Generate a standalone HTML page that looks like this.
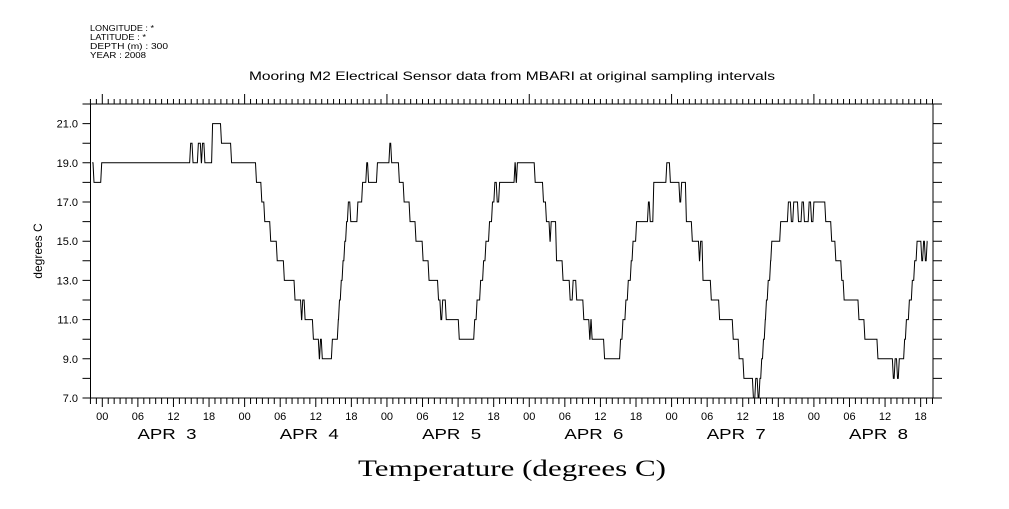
<!DOCTYPE html>
<html><head><meta charset="utf-8"><style>
body{margin:0;background:#fff}
svg text{font-family:"Liberation Sans",sans-serif;fill:#000}
</style></head><body>
<svg id="chart" width="1009" height="504" xmlns="http://www.w3.org/2000/svg">
<g font-size="8">
<text x="90" y="31" textLength="64" lengthAdjust="spacingAndGlyphs">LONGITUDE : *</text>
<text x="90" y="40" textLength="56" lengthAdjust="spacingAndGlyphs">LATITUDE : *</text>
<text x="90" y="49" textLength="78" lengthAdjust="spacingAndGlyphs">DEPTH (m) : 300</text>
<text x="90" y="58" textLength="56" lengthAdjust="spacingAndGlyphs">YEAR : 2008</text>
</g>
<text x="249" y="80" font-size="12" textLength="526" lengthAdjust="spacingAndGlyphs">Mooring M2 Electrical Sensor data from MBARI at original sampling intervals</text>
<text transform="translate(42,251) rotate(-90)" font-size="12" text-anchor="middle">degrees C</text>
<text x="358" y="476" font-size="23" textLength="308" lengthAdjust="spacingAndGlyphs" style="font-family:'Liberation Serif',serif">Temperature (degrees C)</text>
<g id="axes"></g>
<path id="series" fill="none" stroke="#000" stroke-width="1"/>
</svg>
<script>
const hours=[-1.7,-1.4,-0.1,14.7,14.9,15.3,16.2,16.7,16.9,17.3,18.6,20.1,21.8,26.0,26.9,27.4,28.4,29.5,30.7,32.5,33.6,33.8,34.2,35.6,36.6,36.8,37.1,38.8,39.8,40.0,40.3,40.6,40.9,41.2,41.5,41.9,43.1,43.9,44.6,44.9,46.4,48.5,48.8,50.1,50.9,51.9,52.9,54.1,55.1,56.7,57.1,57.4,58.0,60.2,62.8,63.2,63.8,64.3,64.7,65.3,65.8,66.2,66.6,67.0,69.6,69.8,70.0,72.7,73.0,74.4,74.9,75.5,75.7,76.6,77.7,78.9,79.4,80.0,81.2,82.2,82.4,82.6,84.7,87.0,87.4,87.8,88.3,88.7,89.2,89.5,90.1,92.1,92.4,93.0,95.2,95.8,97.4,97.7,98.5,99.5,100.7,100.9,101.3,102.7,104.1,106.4,107.4,108.2,109.8,110.2,110.6,110.9,111.2,111.5,111.8,112.0,112.3,112.7,112.9,114.4,115.7,116.2,116.6,117.4,118.0,118.4,119.2,119.6,120.0,121.7,122.0,123.0,123.7,124.7,125.1,127.6,128.6,130.8,133.4,133.7,134.1,134.4,135.3,135.6,136.1,136.6,137.0,137.4,138.2,138.5,138.8,139.1,139.3];
const temps=[19,18,19,19,20,19,20,19,20,19,21,20,19,18,17,16,15,14,13,12,11,12,11,10,9,10,9,10,11,12,13,14,15,16,17,16,17,18,19,18,19,20,19,18,17,16,15,14,13,12,11,12,11,10,11,12,13,14,15,16,17,18,17,18,19,18,19,19,18,17,16,15,16,14,13,12,13,12,11,10,11,10,9,9,10,11,12,13,14,15,16,17,16,18,19,18,17,18,16,15,14,15,13,12,11,10,9,8,7,8,7,8,9,10,11,12,13,14,15,16,17,16,17,16,17,16,17,16,17,17,16,15,14,13,12,11,10,9,8,9,8,9,10,11,12,13,14,15,14,15,14,15];
const yTicks=[7,8,9,10,11,12,13,14,15,16,17,18,19,20,21,22];
const yLabels=[7,9,11,13,15,17,19,21];
const hourLabels=["00","06","12","18"];
const dayNames=["APR  3","APR  4","APR  5","APR  6","APR  7","APR  8"];
const L=90.5,R=933,T=104,B=398,H0=102.3,HP=5.93;
const xs=h=>H0+h*HP;
const ys=v=>B-(v-7)*(B-T)/15;
const NS="http://www.w3.org/2000/svg";
const ax=document.getElementById('axes');
function mk(tag,at,parent){const e=document.createElementNS(NS,tag);for(const k in at)e.setAttribute(k,at[k]);(parent||ax).appendChild(e);return e;}
const frame=mk('rect',{x:L,y:T,width:R-L,height:B-T,fill:'none',stroke:'#000'});


let d='';
for(const v of yTicks){const y=ys(v);d+=`M${L-8} ${y}H${L}M${R} ${y}H${R+9}`;}
for(let h=-2;h<=140;h++){const x=xs(h);const day=((h%24)+24)%24===0;d+=`M${x} ${T}V${T-(day?10:5)}M${x} ${B}V${B+(h%6===0?9:6)}`;}
const ticks=mk('path',{d:d,stroke:'#000',fill:'none'});


for(const v of yLabels){const t=mk('text',{x:78,y:ys(v)+4,'font-size':11,'text-anchor':'end'});t.textContent=v.toFixed(1);

}
for(let h=0;h<=138;h+=6){const t=mk('text',{x:xs(h),y:420,'font-size':11,'text-anchor':'middle'});t.textContent=hourLabels[(h/6)%4];

}
dayNames.forEach((n,i)=>{const t=mk('text',{x:xs(i*24+12)-36,y:439,'font-size':15,textLength:59,lengthAdjust:'spacingAndGlyphs'});t.textContent=n;t.style.whiteSpace='pre';

});
let p=`M${xs(hours[0])} ${ys(temps[0])}`;
for(let i=1;i<hours.length;i++){p+=`L${xs(hours[i])-1} ${ys(temps[i-1])}L${xs(hours[i])} ${ys(temps[i])}`;}
document.getElementById('series').setAttribute('d',p);
</script>
</body></html>
